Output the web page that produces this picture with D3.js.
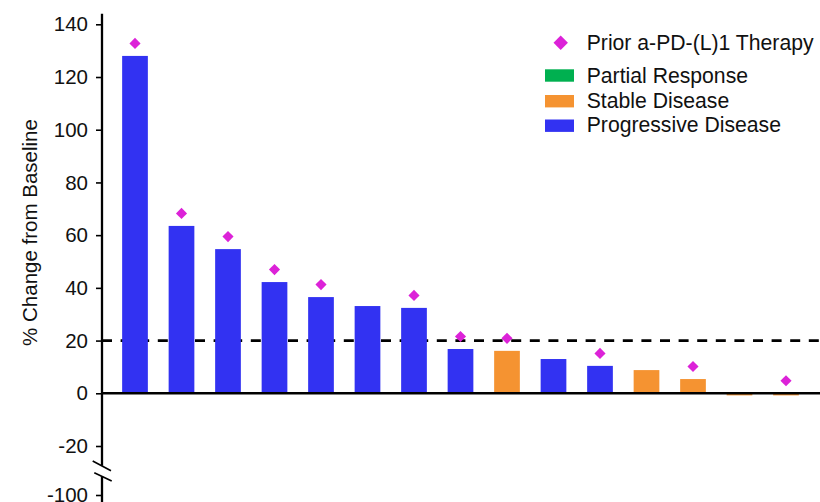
<!DOCTYPE html>
<html><head><meta charset="utf-8">
<script src="https://cdn.jsdelivr.net/npm/d3@7"></script>
<style>
html,body{margin:0;padding:0;background:#fff;}
svg{display:block;font-family:"Liberation Sans",Arial,sans-serif;}
</style></head>
<body>
<svg id="chart" width="820" height="502"></svg>
<script>
// ---- data ----
const patients = ["P1","P2","P3","P4","P5","P6","P7","P8","P9","P10","P11","P12","P13","P14","P15"];
const pctChange = [128, 63.5, 54.7, 42.2, 36.5, 33.1, 32.4, 16.8, 16.1, 13, 10.4, 8.8, 5.4, -0.8, -0.8];
const response = ["PD","PD","PD","PD","PD","PD","PD","PD","SD","PD","PD","SD","SD","SD","SD"];
const priorPD1 = [true,true,true,true,true,false,true,true,true,false,true,false,true,false,true];
const tickValues = [-20, 0, 20, 40, 60, 80, 100, 120, 140];
const lowerTick = [-100];
const threshold = 20;
const legendItems = [
  {key:"PR", label:"Partial Response"},
  {key:"SD", label:"Stable Disease"},
  {key:"PD", label:"Progressive Disease"}
];
const markerLabel = "Prior a-PD-(L)1 Therapy";
const yLabel = "% Change from Baseline";

// ---- styles ----
const colors = {PR:"#00B050", SD:"#F59331", PD:"#3232F2"};
const diamondColor = "#DC22D8";
const fontSize = 20.5;
const legendFont = 21.2;

const svg = d3.select("#chart");
const axisX = 102;

const x = d3.scaleBand().domain(patients).range([111.75, 809.25]).paddingInner(0.447).paddingOuter(0.2235);
const y = d3.scaleLinear().domain([-20, 140]).range([446.0, 24.3]);
const yLow = d3.scaleLinear().domain([-105, -95]).range([508.2, 481.8]);

// threshold dashed line
svg.append("line")
  .attr("x1", axisX).attr("x2", 820)
  .attr("y1", y(threshold)).attr("y2", y(threshold))
  .attr("stroke", "#000").attr("stroke-width", 2.6)
  .attr("stroke-dasharray", "10,8.6");

// bars
svg.append("g").selectAll("rect").data(patients).join("rect")
  .attr("x", d => x(d))
  .attr("width", x.bandwidth())
  .attr("y", (d,i) => y(Math.max(0, pctChange[i])))
  .attr("height", (d,i) => Math.abs(y(pctChange[i]) - y(0)))
  .attr("fill", (d,i) => colors[response[i]]);

// zero line
svg.append("line")
  .attr("x1", axisX).attr("x2", 820)
  .attr("y1", y(0)).attr("y2", y(0))
  .attr("stroke", "#000").attr("stroke-width", 2.6);

// diamonds
const diamond = d3.symbol(d3.symbolSquare, 62);
svg.append("g").selectAll("path").data(patients.filter((d,i) => priorPD1[i])).join("path")
  .attr("d", diamond)
  .attr("fill", diamondColor)
  .attr("transform", d => {
    const i = patients.indexOf(d);
    return `translate(${x(d) + x.bandwidth()/2},${y(Math.max(0, pctChange[i])) - 12.5}) rotate(45)`;
  });

// y axis (upper)
const fmt = d => String(d);
const gAxis = svg.append("g").attr("transform", `translate(${axisX},0)`);
const axisUpper = d3.axisLeft(y).tickValues(tickValues).tickSize(6).tickPadding(8).tickFormat(fmt);
gAxis.call(axisUpper);
const axisLower = d3.axisLeft(yLow).tickValues(lowerTick).tickSize(6).tickPadding(8).tickFormat(fmt);
const gAxisLow = svg.append("g").attr("transform", `translate(${axisX},0)`).call(axisLower);
[gAxis, gAxisLow].forEach(g => {
  g.select(".domain").remove();
  g.selectAll(".tick line").attr("stroke", "#000").attr("stroke-width", 1.6);
  g.selectAll(".tick text").attr("font-size", fontSize).attr("fill", "#111")
    .attr("font-family", "'Liberation Sans', Arial, sans-serif");
});

// axis line with break
const breakTop = 465.7, breakBottom = 476;
svg.append("path")
  .attr("d", `M${axisX},${y(144)}V${breakTop}M${axisX},${breakBottom}V502`)
  .attr("stroke", "#000").attr("stroke-width", 2.3).attr("fill", "none");
svg.append("path")
  .attr("d", `M${axisX-9.3},461L${axisX+9},470.7M${axisX-7.7},472.7L${axisX+9.7},481`)
  .attr("stroke", "#000").attr("stroke-width", 1.6).attr("fill", "none");

// y label
svg.append("text")
  .attr("transform", `translate(36.5,232.5) rotate(-90)`)
  .attr("text-anchor", "middle")
  .attr("font-size", fontSize).attr("fill", "#111")
  .text(yLabel);

// legend
const lg = svg.append("g");
lg.append("path")
  .attr("d", d3.symbol(d3.symbolSquare, 104))
  .attr("fill", diamondColor)
  .attr("transform", "translate(560.7,42.7) rotate(45)");
lg.append("text").attr("x", 586.7).attr("y", 50)
  .attr("font-size", legendFont).attr("fill", "#111").text(markerLabel);
const legendY = [69.3, 95, 119.5];
const legendBase = [82.7, 107.5, 132.2];
legendItems.forEach((it, i) => {
  lg.append("rect").attr("x", 545).attr("y", legendY[i]).attr("width", 29).attr("height", 12.4)
    .attr("fill", colors[it.key]);
  lg.append("text").attr("x", 586.7).attr("y", legendBase[i])
    .attr("font-size", legendFont).attr("fill", "#111").text(it.label);
});
</script>
</body></html>
